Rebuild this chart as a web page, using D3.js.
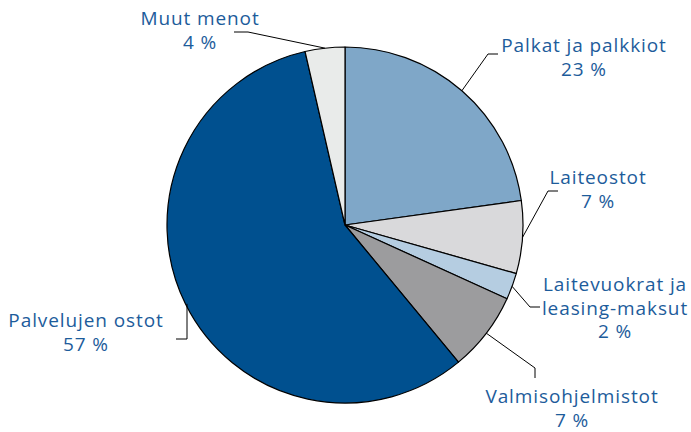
<!DOCTYPE html>
<html>
<head>
<meta charset="utf-8">
<script src="https://cdn.jsdelivr.net/npm/d3@7"></script>
<style>
  body { margin: 0; background: #fff; }
  svg { display: block; }
  .lbl { font-family: "Open Sans", sans-serif; font-size: 19px; letter-spacing: 0.9px; fill: #1d5c9b; }
</style>
</head>
<body>
<svg id="chart" width="691" height="432"></svg>
<script>
// shares (clockwise from 12 o'clock)
var categories = ["Palkat ja palkkiot", "Laiteostot", "Laitevuokrat ja leasing-maksut",
                  "Valmisohjelmistot", "Palvelujen ostot", "Muut menot"];
var shares = [22.8, 6.6, 2.4, 7.2, 57.4, 3.6];
var percentLabels = ["23 %", "7 %", "2 %", "7 %", "57 %", "4 %"];
var labelLines = [["Palkat ja palkkiot"], ["Laiteostot"], ["Laitevuokrat ja", "leasing-maksut"],
                  ["Valmisohjelmistot"], ["Palvelujen ostot"], ["Muut menot"]];
var colors = ["#7fa7c8", "#d9d9db", "#b5cde1", "#9c9c9e", "#00508f", "#e9ebea"];

// label placement: text centre, first baseline, leader elbow and end
var labelLayout = [
  {x: 584, y: 52,  elbow: [488, 54],  end: [498, 54]},
  {x: 598, y: 184, elbow: [548, 191], end: [558, 191]},
  {x: 615, y: 291, elbow: [530, 307], end: [540, 307]},
  {x: 572, y: 403, elbow: [535, 368], end: [535, 378]},
  {x: 86,  y: 327, elbow: [187, 339], end: [176, 339]},
  {x: 200, y: 25,  elbow: [248, 32],  end: [234, 32]}
];

var cx = 345, cy = 225, radius = 178;
var lineGap = 23.5;

var svg = d3.select("#chart");
var g = svg.append("g").attr("transform", "translate(" + cx + "," + cy + ")");

var pie = d3.pie().sort(null).value(function(d){ return d; });
var arcs = pie(shares);
var arc = d3.arc().innerRadius(0).outerRadius(radius);

g.selectAll("path.slice")
  .data(arcs)
  .enter().append("path")
  .attr("class", "slice")
  .attr("d", arc)
  .attr("fill", function(d, i){ return colors[i]; })
  .attr("stroke", "#000")
  .attr("stroke-width", 1.2)
  .attr("stroke-linejoin", "round");

// leader lines start on the rim at each slice's mid angle
arcs.forEach(function(d, i){
  var a = (d.startAngle + d.endAngle) / 2;
  var sx = cx + radius * Math.sin(a);
  var sy = cy - radius * Math.cos(a);
  var lay = labelLayout[i];
  // Palvelujen ostot goes straight down from the rim
  if (i === 4) sx = lay.elbow[0];
  svg.append("path")
    .attr("d", d3.line()([[sx, sy], lay.elbow, lay.end]))
    .attr("fill", "none")
    .attr("stroke", "#000")
    .attr("stroke-width", 1);

  var t = svg.append("text")
    .attr("class", "lbl")
    .attr("text-anchor", "middle");
  var lines = labelLines[i].concat([percentLabels[i]]);
  lines.forEach(function(s, k){
    t.append("tspan")
      .attr("x", lay.x)
      .attr("y", lay.y + k * lineGap)
      .text(s);
  });
});
</script>
</body>
</html>
